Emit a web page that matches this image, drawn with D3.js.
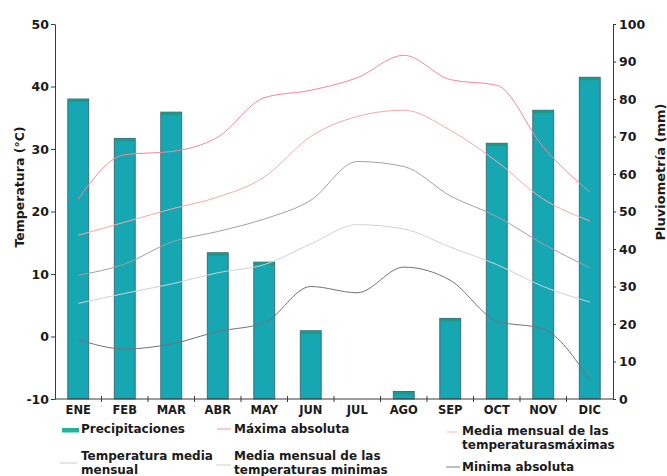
<!DOCTYPE html>
<html>
<head>
<meta charset="utf-8">
<script src="https://cdn.jsdelivr.net/npm/d3@7"></script>
<style>
  body { margin: 0; background: #ffffff; }
  text { font-family: "DejaVu Sans", "Liberation Sans", sans-serif; font-weight: bold; fill: #1b1b1b; }
</style>
</head>
<body>
<svg id="chart" width="667" height="476"></svg>
<script>
// Monthly climate data
const months = ["ENE", "FEB", "MAR", "ABR", "MAY", "JUN", "JUL", "AGO", "SEP", "OCT", "NOV", "DIC"];
const precipitaciones = [80, 69.5, 76.5, 39, 36.5, 18.2, 0, 2, 21.5, 68.2, 77, 85.8];          // mm
const maximaAbsoluta  = [22, 29.1, 29.6, 31.9, 38.2, 39.4, 41.4, 45, 41.1, 40.2, 30.3, 23.1];   // ºC
const mediaMaximas    = [16.2, 18.3, 20.4, 22.3, 25.5, 32, 35.2, 36.2, 33, 28, 22, 18.5];
const temperaturaMedia = [9.8, 11.6, 15.1, 16.8, 18.8, 21.8, 28, 27.2, 22.5, 19.2, 14.8, 11];
const mediaMinimas    = [5.3, 6.9, 8.4, 10.2, 11.5, 14.8, 17.9, 17.2, 14.3, 11.5, 8, 5.5];
const minimaAbsoluta  = [-0.5, -2, -1.2, 0.8, 2.2, 8, 7, 11.1, 9, 2.5, 1.2, -7];
const tempTicks   = [-10, 0, 10, 20, 30, 40, 50];
const precipTicks = [0, 10, 20, 30, 40, 50, 60, 70, 80, 90, 100];

const svg = d3.select("#chart");

const x  = d3.scaleBand().domain(months).range([55, 613]).paddingInner(0.55).paddingOuter(0.275);
const yT = d3.scaleLinear().domain([-10, 50]).range([399, 24]);
const yP = d3.scaleLinear().domain([0, 100]).range([399, 24]);

// Precipitation bars
const bars = svg.append("g");
bars.selectAll("rect.bar")
  .data(precipitaciones)
  .join("rect")
  .attr("class", "bar")
  .attr("x", (d, i) => x(months[i]))
  .attr("y", d => yP(d))
  .attr("width", x.bandwidth())
  .attr("height", d => yP(0) - yP(d))
  .attr("fill", "#17a7b3")
  .attr("stroke", "#3b6470")
  .attr("stroke-width", 0.9);
bars.selectAll("rect.cap")
  .data(precipitaciones.map((d, i) => ({ d, m: months[i] })).filter(o => o.d > 0))
  .join("rect")
  .attr("class", "cap")
  .attr("x", o => x(o.m) + 0.5)
  .attr("y", o => yP(o.d) + 0.5)
  .attr("width", x.bandwidth() - 1)
  .attr("height", o => Math.min(2.5, yP(0) - yP(o.d) - 1))
  .attr("fill", "#1c9a86");

// Temperature lines
const series = [
  { values: maximaAbsoluta,   color: "#f2879a" },
  { values: mediaMaximas,     color: "#f4a9ab" },
  { values: temperaturaMedia, color: "#9da2a8" },
  { values: mediaMinimas,     color: "#cfd2d5" },
  { values: minimaAbsoluta,   color: "#6c747e" }
];
const line = d3.line()
  .x((d, i) => x(months[i]) + x.bandwidth() / 2)
  .y(d => yT(d))
  .curve(d3.curveMonotoneX);
svg.append("g").selectAll("path")
  .data(series)
  .join("path")
  .attr("d", s => line(s.values))
  .attr("fill", "none")
  .attr("stroke", s => s.color)
  .attr("stroke-width", 1);

// Left axis: temperature
const axL = svg.append("g")
  .attr("transform", "translate(55,0)")
  .call(d3.axisLeft(yT).tickValues(tempTicks).tickFormat(d => String(d))
    .tickSize(4).tickSizeOuter(0).tickPadding(2));

// Right axis: precipitation
const axR = svg.append("g")
  .attr("transform", "translate(613,0)")
  .call(d3.axisRight(yP).tickValues(precipTicks).tickFormat(d => String(d))
    .tickSize(3).tickSizeOuter(0).tickPadding(3));

[axL, axR].forEach(a => {
  a.select(".domain").attr("stroke", "#3a3a3a");
  a.selectAll(".tick line").attr("stroke", "#3a3a3a");
  a.selectAll("text")
    .attr("fill", "#1b1b1b")
    .style("font-family", "'DejaVu Sans', sans-serif")
    .style("font-weight", "bold")
    .style("font-size", "12.5px");
});

// Bottom axis: month labels with ticks at band boundaries
const axB = svg.append("g").attr("transform", "translate(0,399)");
axB.append("line").attr("x1", 55).attr("x2", 613).attr("stroke", "#3a3a3a");
const edges = months.map(m => x(m) - x.step() * x.paddingInner() / 2).slice(1);
axB.selectAll("line.tk")
  .data(edges)
  .join("line")
  .attr("class", "tk")
  .attr("x1", d => d).attr("x2", d => d)
  .attr("y1", -3).attr("y2", 3)
  .attr("stroke", "#3a3a3a");
axB.selectAll("text")
  .data(months)
  .join("text")
  .attr("x", d => x(d) + x.bandwidth() / 2)
  .attr("y", 15)
  .attr("text-anchor", "middle")
  .style("font-size", "11.5px")
  .text(d => d);

// Axis titles
svg.append("text")
  .attr("transform", "translate(24,187) rotate(-90)")
  .attr("text-anchor", "middle")
  .style("font-size", "12.5px")
  .text("Temperatura (°C)");
svg.append("text")
  .attr("transform", "translate(665,172) rotate(-90)")
  .attr("text-anchor", "middle")
  .style("font-size", "13px")
  .text("Pluviometría (mm)");

// Legend
const legend = svg.append("g").style("font-size", "12px");
const legendItems = [
  { lines: ["Precipitaciones"], kind: "bar", color: "#22b39b", sx: [62, 79], sy: 430, tx: 81, ty: 433 },
  { lines: ["Máxima absoluta"], kind: "line", color: "#f4a6b0", sx: [217, 231], sy: 429, tx: 234, ty: 433 },
  { lines: ["Media mensual de las", "temperaturasmáximas"], kind: "line", color: "#f6c2c2", sx: [447, 458], sy: 432, tx: 462, ty: 435 },
  { lines: ["Temperatura media", "mensual"], kind: "line", color: "#cfd2d5", sx: [60, 77], sy: 463, tx: 81, ty: 460 },
  { lines: ["Media mensual de las", "temperaturas minimas"], kind: "line", color: "#d5d8da", sx: [216, 231], sy: 465, tx: 234, ty: 460 },
  { lines: ["Minima absoluta"], kind: "line", color: "#8d949b", sx: [446, 460], sy: 467, tx: 462, ty: 471 }
];
legendItems.forEach(it => {
  if (it.kind === "bar") {
    legend.append("rect")
      .attr("x", it.sx[0]).attr("y", it.sy - 2)
      .attr("width", it.sx[1] - it.sx[0]).attr("height", 4.5)
      .attr("fill", it.color);
  } else {
    legend.append("line")
      .attr("x1", it.sx[0]).attr("x2", it.sx[1])
      .attr("y1", it.sy).attr("y2", it.sy)
      .attr("stroke", it.color).attr("stroke-width", 1.2);
  }
  const t = legend.append("text").attr("x", it.tx).attr("y", it.ty);
  it.lines.forEach((l, k) => {
    t.append("tspan").attr("x", it.tx).attr("dy", k === 0 ? 0 : 13.5).text(l);
  });
});
</script>
</body>
</html>
